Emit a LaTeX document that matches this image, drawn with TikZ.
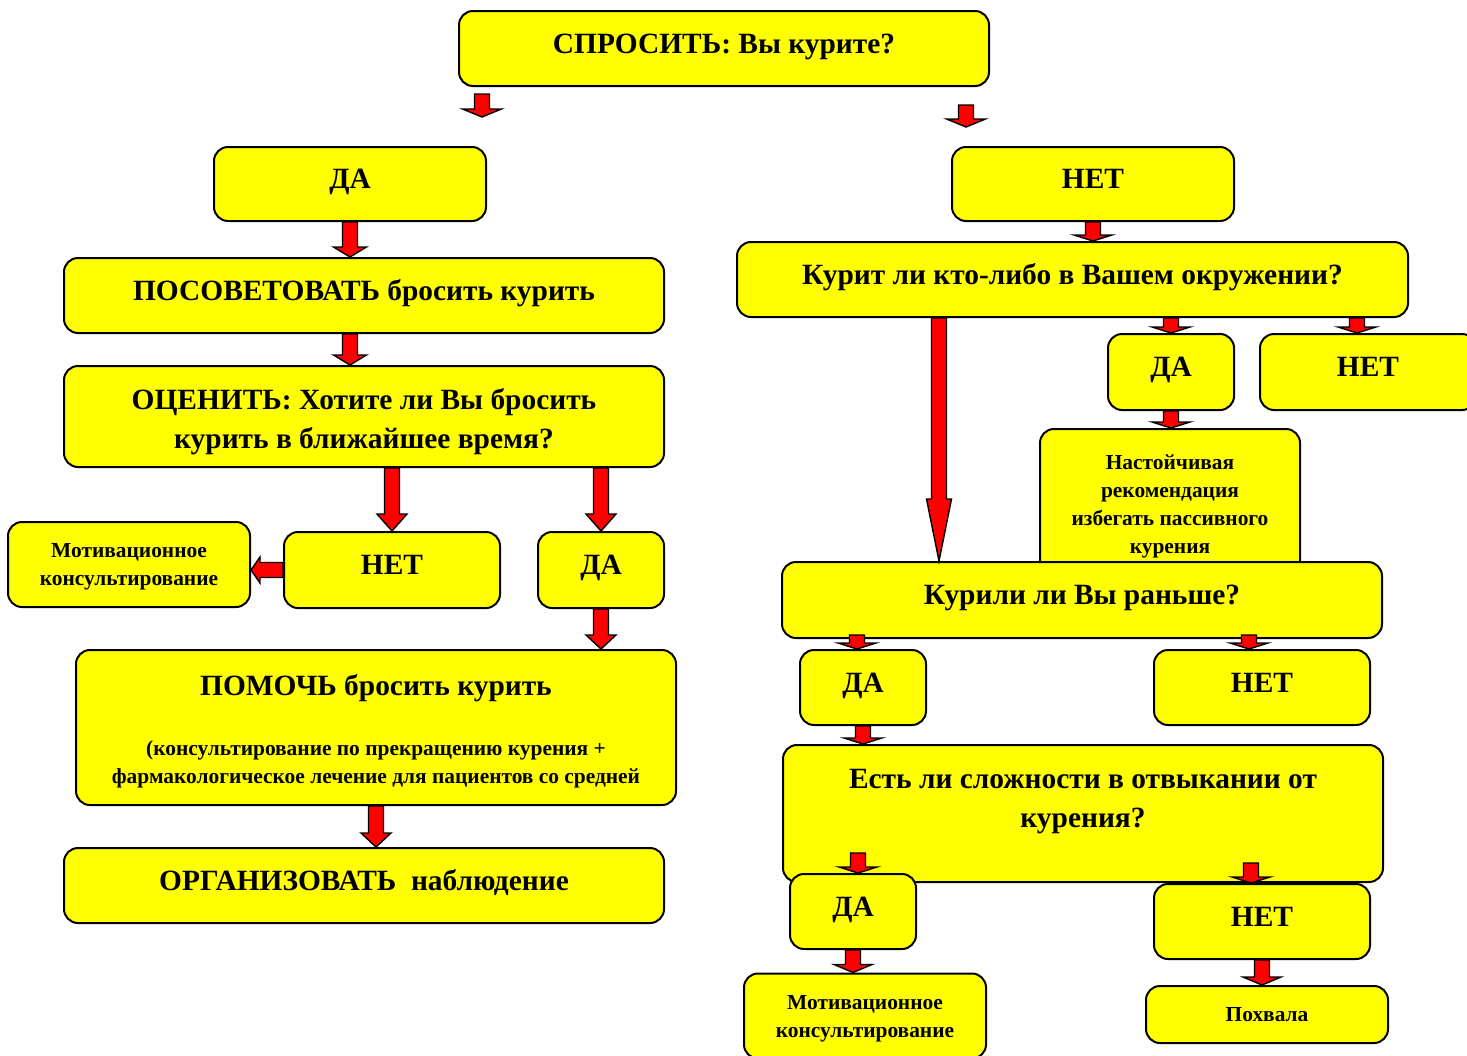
\documentclass[tikz,border=0pt]{standalone}
\usepackage{fontspec}
\setmainfont{Liberation Serif}
\usetikzlibrary{calc}
\definecolor{boxyellow}{RGB}{255,255,0}
\definecolor{arrred}{RGB}{255,0,0}
\def\arrdown[#1:#2](#3)(#4){\draw[blockarrow] ($(#3)+(-7.5,0)$) -- ($(#4)+(-7.5,-#2)$) -- ($(#4)+(-#1,-#2)$) -- (#4) -- ($(#4)+(#1,-#2)$) -- ($(#4)+(7.5,-#2)$) -- ($(#3)+(7.5,0)$) -- cycle;}
\def\arrleft[#1:#2](#3)(#4){\draw[blockarrow] ($(#3)+(0,-7.5)$) -- ($(#4)+(#2,-7.5)$) -- ($(#4)+(#2,-#1)$) -- (#4) -- ($(#4)+(#2,#1)$) -- ($(#4)+(#2,7.5)$) -- ($(#3)+(0,7.5)$) -- cycle;}
\tikzset{
  box/.style={draw, line width=1pt, fill=boxyellow, rounded corners=7pt, align=center, inner sep=2pt,
    font=\bfseries\fontsize{14.7}{19.5}\selectfont},
  oneline/.style={text height=10.3pt, text depth=5.6pt},
  small/.style={font=\bfseries\fontsize{10.7}{14}\selectfont},
  blockarrow/.style={draw=black, fill=arrred, line width=0.7pt, line join=miter},
}
\begin{document}
\begin{tikzpicture}[x=0.5pt, y=-0.5pt]
		\useasboundingbox (0,0) rectangle (1467,1055);
		%%%%% BOXES %%%%%
		\node[box, oneline, minimum width=265pt, minimum height=37.5pt] (ask) at (724,48.5) {СПРОСИТЬ: Вы курите?};
		
		\node[box, oneline, minimum width=136pt, minimum height=37pt] (da1) at (350,184) {ДА};
		\node[box, oneline, minimum width=300pt, minimum height=37.5pt] (advise) at (364,295.5) {ПОСОВЕТОВАТЬ бросить курить};
		\node[box, minimum width=300pt, minimum height=50.5pt] (assess) at (364,416.5) {\rule{0pt}{15.5pt}ОЦЕНИТЬ: Хотите ли Вы бросить\\курить в ближайшее время?};
		\node[box, small, minimum width=121pt, minimum height=42.5pt] (motiv1) at (129,564.5) {\rule{0pt}{9pt}Мотивационное\\консультирование};
		\node[box, oneline, minimum width=108pt, minimum height=38pt] (net2) at (392,570) {НЕТ};
		\node[box, oneline, minimum width=63pt, minimum height=38pt] (da2) at (601,570) {ДА};
		\node[box, small, minimum width=300pt, minimum height=77.5pt] (help) at (376,727.5) {{\fontsize{14.7}{19.5}\selectfont\rule{0pt}{14pt}ПОМОЧЬ бросить курить}\\[16pt](консультирование по прекращению курения +\\фармакологическое лечение для пациентов со средней};
		\node[box, oneline, minimum width=300pt, minimum height=37.5pt] (organize) at (364,885.5) {ОРГАНИЗОВАТЬ~ наблюдение};
		
		\node[box, oneline, minimum width=141pt, minimum height=37pt] (net1) at (1093,184) {НЕТ};
		\node[box, oneline, minimum width=335.5pt, minimum height=37.5pt] (env) at (1072.5,279.5) {Курит ли кто-либо в Вашем окружении?};
		\node[box, oneline, minimum width=63pt, minimum height=38pt] (da3) at (1171,372) {ДА};
		\node[box, oneline, minimum width=108pt, minimum height=38pt] (net3) at (1368,372) {НЕТ};
		\node[box, small, minimum width=130pt, minimum height=73pt] (passive) at (1170,502) {\rule{0pt}{12pt}Настойчивая\\рекомендация\\избегать пассивного\\курения};
		\node[box, oneline, minimum width=300pt, minimum height=38pt] (smoked) at (1082,600) {Курили ли Вы раньше?};
		\node[box, oneline, minimum width=63pt, minimum height=37.5pt] (da4) at (863,687.5) {ДА};
		\node[box, oneline, minimum width=108pt, minimum height=37.5pt] (net4) at (1262,687.5) {НЕТ};
		\node[box, minimum width=300pt, minimum height=68.5pt, text depth=15pt] (hard) at (1083,813.5) {Есть ли сложности в отвыкании от\\курения?};
		\node[box, oneline, minimum width=63pt, minimum height=37.5pt] (da5) at (853,911.5) {ДА};
		\node[box, oneline, minimum width=108pt, minimum height=37.5pt] (net5) at (1262,921.5) {НЕТ};
		\node[box, small, minimum width=121pt, minimum height=42.5pt] (motiv2) at (865,1016) {\rule{0pt}{10pt}Мотивационное\\консультирование};
		\node[box, small, minimum width=121pt, minimum height=28.5pt] (praise) at (1267,1014.5) {Похвала};
		
		%%%%% ARROWS %%%%%
		\coordinate (a1) at ($(ask.south west)+(24,7)$);
		\coordinate (a1t) at ($(a1)+(0,23)$);
		\coordinate (a2) at ($(ask.south east)+(-24,18)$);
		\coordinate (a2t) at ($(a2)+(0,22)$);
		\arrdown[19.5:8](a1)(a1t)
		\arrdown[19.5:8](a2)(a2t)
		
		\arrdown[16.5:10](da1.south)(da1.south |- advise.north)
		\arrdown[16.5:10](da1.south |- advise.south)(da1.south |- assess.north)
		\arrdown[15:17](net2.north |- assess.south)(net2.north)
		\arrdown[15:17](da2.north |- assess.south)(da2.north)
		\arrdown[15:14](da2.south)(da2.south |- help.north)
		\arrdown[15:14](help.south)(help.south |- organize.north)
		\arrleft[13:9](net2.west)(motiv1.east |- net2.west)
		
		\arrdown[19:6](net1.south)(net1.south |- env.north)
		\arrdown[19:6](da3.north |- env.south)(da3.north)
		\coordinate (e3) at ($(env.south east)+(-52,0)$);
		\arrdown[19:6](e3)(e3 |- net3.north)
		\arrdown[19:6](da3.south)(da3.south |- passive.north)
		\coordinate (e1) at ($(env.south west)+(203,0)$);
		\arrdown[12.5:62](e1)(e1 |- smoked.north)
		\coordinate (s1) at ($(smoked.south west)+(76,-4)$);
		\arrdown[19:6](s1)(s1 |- da4.north)
		\coordinate (s2) at ($(smoked.south east)+(-134,-4)$);
		\arrdown[19:6](s2)(s2 |- net4.north)
		\arrdown[19:6](da4.south)(da4.south |- hard.north)
		\coordinate (h1) at ($(da5.north)+(5,-20)$);
		\arrdown[19:6](h1)(h1 |- da5.north)
		\coordinate (h2) at ($(net5.north)+(-11,-20)$);
		\arrdown[19:6](h2)(h2 |- net5.north)
		\arrdown[19:8](da5.south)(da5.south |- motiv2.north)
		\arrdown[19:8](net5.south)(net5.south |- praise.north)
\end{tikzpicture}
\end{document}
